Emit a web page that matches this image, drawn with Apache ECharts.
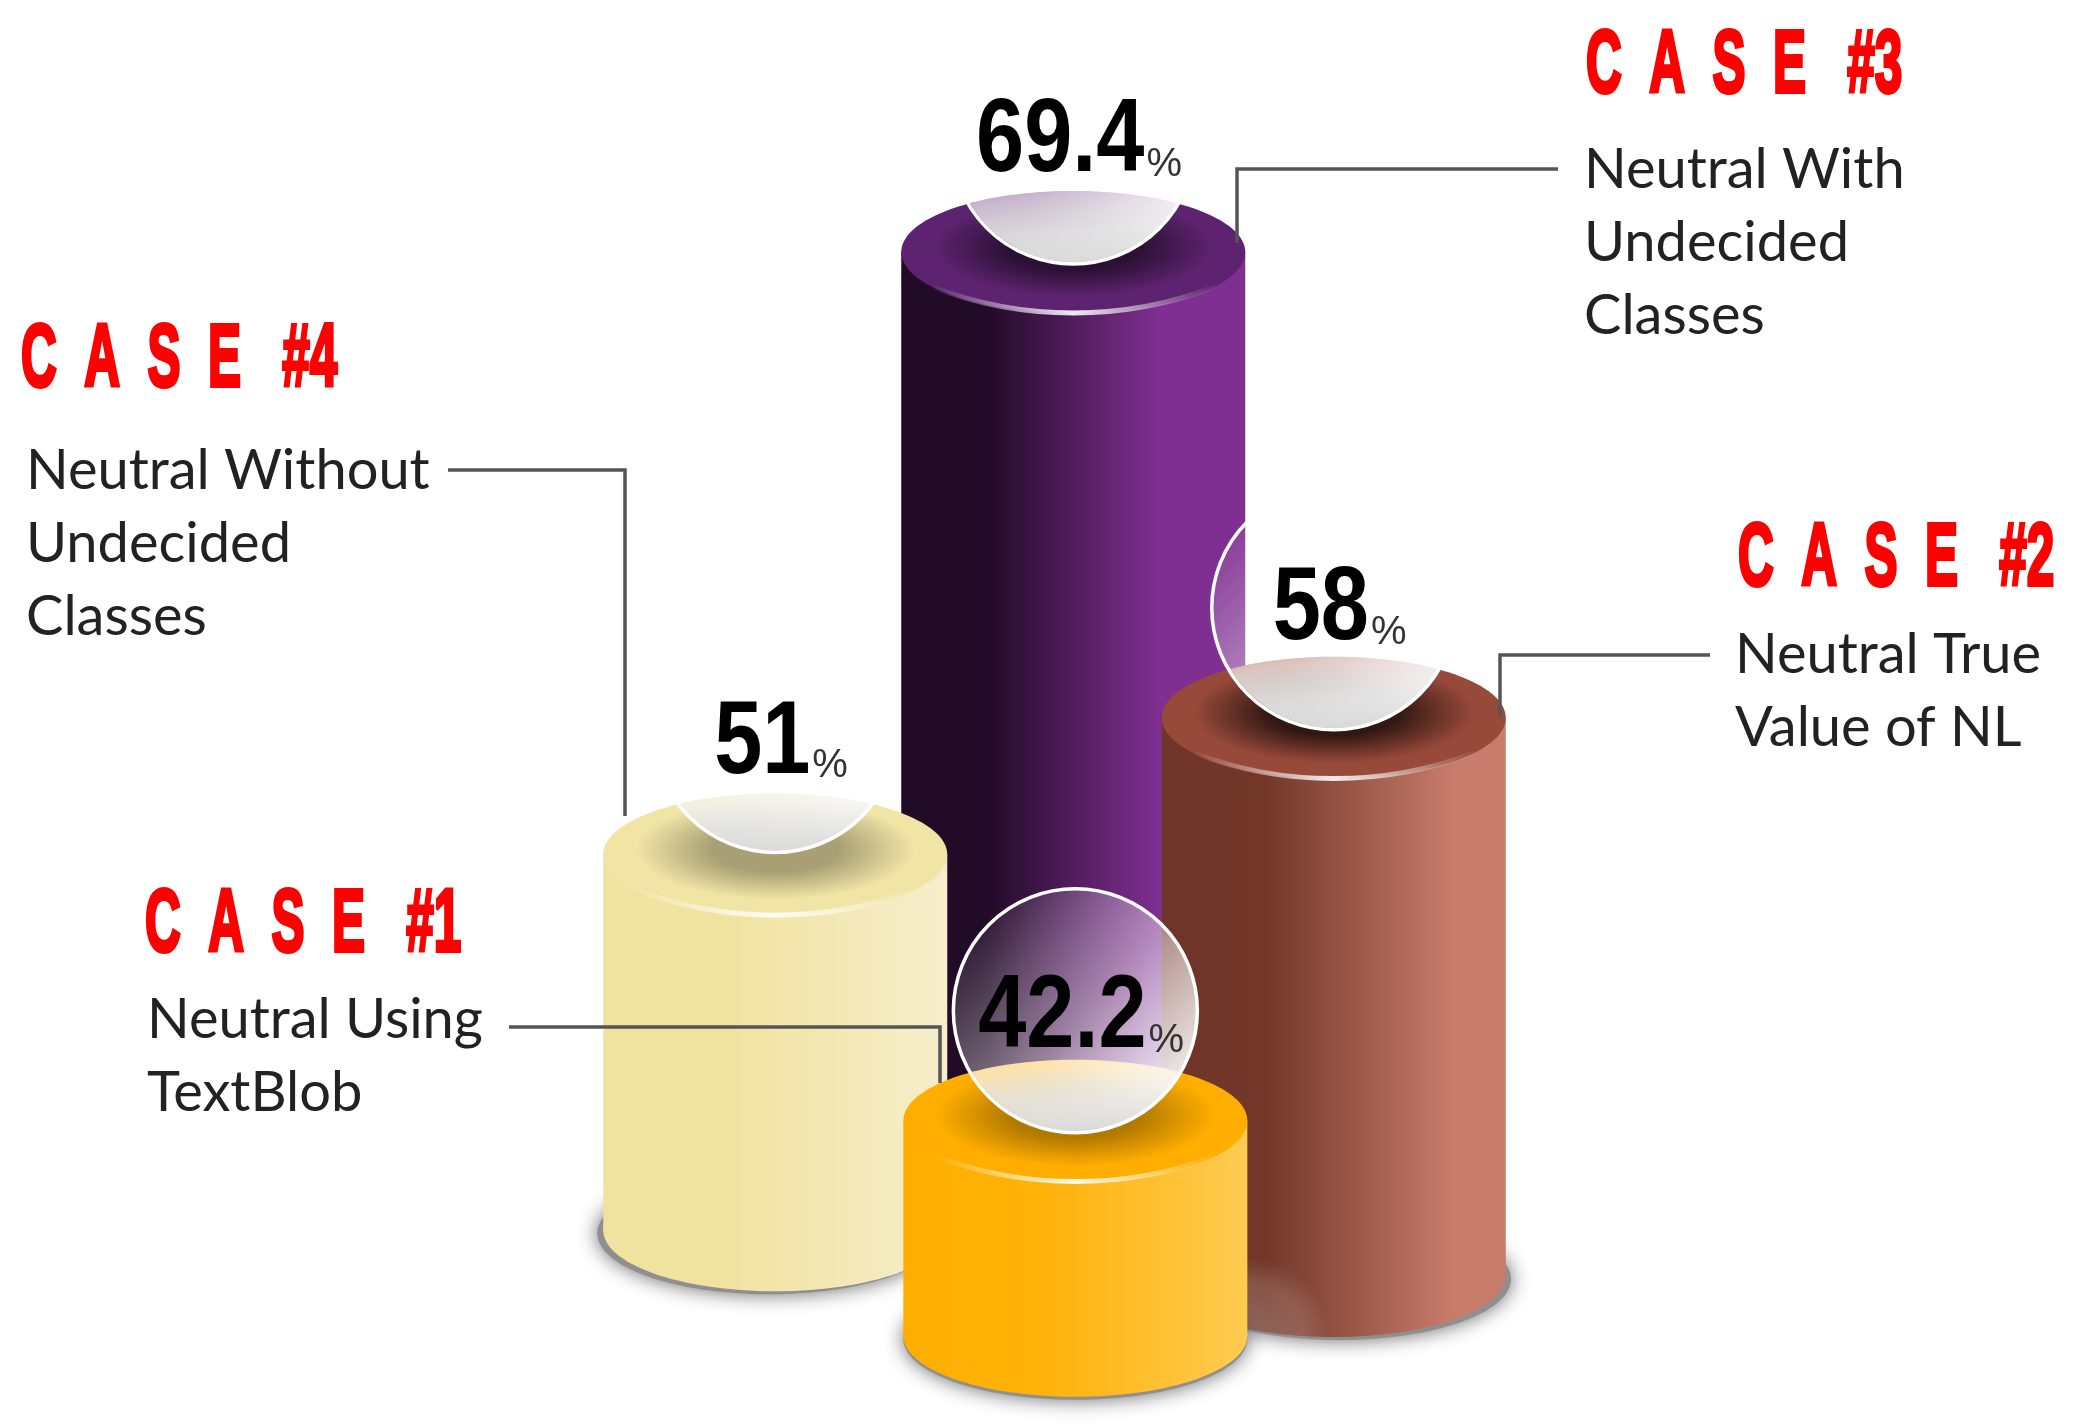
<!DOCTYPE html>
<html>
<head>
<meta charset="utf-8">
<title>Neutral cases</title>
<script src="https://cdn.jsdelivr.net/npm/echarts@6/dist/echarts.min.js"></script>
<style>
html, body { margin: 0; padding: 0; background: #fff; }
#chart { width: 2084px; height: 1424px; }
</style>
</head>
<body>
<div id="chart"></div>
<script>
// values printed on the picture, CASE #1 .. #4
const caseNames = ['C  A  S  E   #1', 'C  A  S  E   #2', 'C  A  S  E   #3', 'C  A  S  E   #4'];
const caseValues = [42.2, 58, 69.4, 51];
const caseNotes = [
  ['Neutral Using', 'TextBlob'],
  ['Neutral True', 'Value of NL'],
  ['Neutral With', 'Undecided', 'Classes'],
  ['Neutral Without', 'Undecided', 'Classes']
];
// the cylinders are not drawn to scale in the picture, so their column and
// the levels of top and foot are read off it, in axis units (0-100)
const caseColumn = [51.6, 64.0, 51.5, 37.2];
const caseTopLevel = [21.3, 49.6, 82.3, 40.0];
const caseFootLevel = [6.2, 10.4, 15.7, 13.6];

const chart = echarts.init(document.getElementById('chart'));

const bodyColors = [
  [['0', '#ffae00'], ['0.4', '#ffb208'], ['1', '#ffcb52']],
  [['0', '#6e3528'], ['0.3', '#723729'], ['0.85', '#c87c6c'], ['1', '#c87c6c']],
  [['0', '#210b26'], ['0.25', '#220b27'], ['0.75', '#7f2f92'], ['1', '#7f2f92']],
  [['0', '#f0e3a0'], ['0.35', '#f0e3a0'], ['1', '#f6eecb']]
];
const capColors = ['#ffae00', '#97493a', '#5e2370', '#f1e5a6'];
const shadeAlpha = [0.3, 0.68, 0.55, 0.3];
const lensLift = [110, 110, 110, 124];
const labelShift = [8, 3, 1, 14];

const RX = 172, RY = 61, LENS_R = 122;
const LABEL_SCALE = 0.84;
const MIDDLE_X = 1074;
const measure = document.createElement('canvas').getContext('2d');

function stops(list) {
  return list.map(s => ({ offset: +s[0], color: s[1] }));
}

function renderCylinder(params, api) {
  const i = api.value(3);
  const top = api.coord([api.value(0), api.value(1)]);
  const foot = api.coord([api.value(0), api.value(2)]);
  const cx = top[0], cy = top[1], fy = foot[1];
  const lensY = cy - lensLift[i];
  const textY = lensY + labelShift[i];
  const body = { type: 'linear', x: 0, y: 0, x2: 1, y2: 0, colorStops: stops(bodyColors[i]) };
  const capClip = { type: 'ellipse', shape: { cx: cx, cy: cy, rx: RX, ry: RY } };

  const label = String(caseValues[i]);
  measure.font = 'bold 103px "Liberation Sans"';
  const labelW = measure.measureText(label).width * LABEL_SCALE;
  const labelX = cx - 13 + labelW / 2;

  const children = [
    // ground shadow, thrown away from the middle
    {
      type: 'ellipse',
      shape: { cx: cx + (cx - MIDDLE_X) * 0.02, cy: fy + 3, rx: RX, ry: RY },
      style: { fill: '#8f8f8f', shadowBlur: 20, shadowColor: 'rgba(90,90,90,0.9)' }
    },
    { type: 'ellipse', shape: { cx: cx, cy: fy, rx: RX, ry: RY }, style: { fill: body } },
    { type: 'rect', shape: { x: cx - RX, y: cy, width: RX * 2, height: fy - cy }, style: { fill: body } }
  ];
  if (i === 1) {
    // pale reflection of the orange cylinder on the brown foot
    children.push({
      type: 'group',
      clipPath: { type: 'ellipse', shape: { cx: cx, cy: fy, rx: RX, ry: RY } },
      children: [{
        type: 'circle',
        shape: { cx: cx - 85, cy: fy + 62, r: 80 },
        style: {
          fill: {
            type: 'radial', x: 0.5, y: 0.5, r: 0.5,
            colorStops: [
              { offset: 0, color: 'rgba(255,255,255,0.24)' },
              { offset: 0.7, color: 'rgba(255,255,255,0.14)' },
              { offset: 1, color: 'rgba(255,255,255,0)' }
            ]
          }
        }
      }]
    });
  }
  children.push(
    { type: 'ellipse', shape: { cx: cx, cy: cy, rx: RX, ry: RY }, style: { fill: capColors[i] } },
    // dark halo under the lens
    {
      type: 'group',
      clipPath: capClip,
      children: [{
        type: 'circle',
        x: cx, y: cy - 5, scaleY: 0.36,
        shape: { cx: 0, cy: 0, r: 140 },
        style: {
          fill: {
            type: 'radial', x: 0.5, y: 0.5, r: 0.5,
            colorStops: [
              { offset: 0, color: 'rgba(0,0,0,' + shadeAlpha[i] + ')' },
              { offset: 0.45, color: 'rgba(0,0,0,' + shadeAlpha[i] + ')' },
              { offset: 1, color: 'rgba(0,0,0,0)' }
            ]
          }
        }
      }]
    },
    // white rim light
    {
      type: 'bezierCurve',
      shape: {
        x1: cx - RX * 0.82, y1: cy + RY * 0.57,
        x2: cx + RX * 0.82, y2: cy + RY * 0.57,
        cpx1: cx - RX * 0.3, cpy1: cy + RY * 1.14,
        cpx2: cx + RX * 0.3, cpy2: cy + RY * 1.14
      },
      style: {
        fill: null,
        lineWidth: 5,
        stroke: {
          type: 'linear', x: 0, y: 0, x2: 1, y2: 0,
          colorStops: [
            { offset: 0, color: 'rgba(255,255,255,0)' },
            { offset: 0.5, color: 'rgba(255,255,255,0.9)' },
            { offset: 1, color: 'rgba(255,255,255,0)' }
          ]
        }
      }
    },
    // glass lens
    {
      type: 'circle',
      shape: { cx: cx, cy: lensY, r: LENS_R },
      style: {
        stroke: '#fff',
        lineWidth: 3.5,
        fill: {
          type: 'linear', x: 0.12, y: 0.08, x2: 0.9, y2: 0.85,
          colorStops: [
            { offset: 0, color: 'rgba(255,255,255,0.03)' },
            { offset: 0.55, color: 'rgba(255,255,255,0.45)' },
            { offset: 1, color: 'rgba(255,255,255,0.92)' }
          ]
        }
      }
    },
    {
      type: 'group',
      clipPath: capClip,
      children: [{
        type: 'circle',
        shape: { cx: cx, cy: lensY, r: LENS_R - 2 },
        style: {
          fill: {
            type: 'linear', x: 0, y: 0, x2: 0, y2: 1,
            colorStops: [
              { offset: 0.68, color: 'rgba(255,255,255,0.3)' },
              { offset: 0.88, color: 'rgba(232,232,232,0.82)' },
              { offset: 1, color: 'rgba(218,218,218,1)' }
            ]
          }
        }
      }]
    },
    {
      type: 'text',
      x: labelX, y: textY,
      scaleX: LABEL_SCALE,
      style: {
        text: label,
        fill: '#000',
        font: 'bold 103px "Liberation Sans"',
        textAlign: 'right',
        textVerticalAlign: 'middle'
      }
    },
    {
      type: 'text',
      x: labelX + 2, y: textY + 22,
      style: {
        text: '%',
        fill: '#333',
        font: '40px "Liberation Sans"',
        textAlign: 'left',
        textVerticalAlign: 'middle'
      }
    }
  );
  return { type: 'group', children: children };
}

// back to front: the higher the foot, the further away the cylinder
const drawOrder = caseValues.map((v, i) => i).sort((a, b) => caseFootLevel[b] - caseFootLevel[a]);
const seriesData = drawOrder.map(i => [caseColumn[i], caseTopLevel[i], caseFootLevel[i], i]);

// heading and note block of each case: [headingX, headingTop, noteX, firstLineCentre]
const blockPos = [
  [145, 882, 147, 1020],
  [1738, 516, 1735, 655],
  [1586, 23, 1584, 170],
  [21, 317, 26, 471]
];
// leader lines, text to cylinder
const leaders = [
  [[509, 1027], [940, 1027], [940, 1083]],
  [[1710, 655], [1500, 655], [1500, 716]],
  [[1558, 169], [1237, 169], [1237, 243]],
  [[448, 470], [625, 470], [625, 816]]
];

const graphics = [];
caseNames.forEach((name, i) => {
  const p = blockPos[i];
  graphics.push({
    type: 'polyline',
    z: 20,
    shape: { points: leaders[i] },
    style: { stroke: '#555', lineWidth: 3.5, fill: null }
  });
  graphics.push({
    type: 'text',
    z: 20,
    x: p[0], y: p[1],
    scaleX: 0.75,
    scaleY: 1.35,
    style: {
      text: name,
      fill: '#ff0000',
      stroke: '#ff0000',
      lineWidth: 3,
      font: 'bold 66px "Liberation Sans"',
      textAlign: 'left',
      textVerticalAlign: 'top'
    }
  });
  caseNotes[i].forEach((line, k) => {
    graphics.push({
      type: 'text',
      z: 20,
      x: p[2], y: p[3] + k * 73,
      style: {
        text: line,
        fill: '#222',
        font: '56px Lato',
        textAlign: 'left',
        textVerticalAlign: 'middle'
      }
    });
  });
});

chart.setOption({
  animation: false,
  backgroundColor: '#fff',
  grid: { left: 0, right: 0, top: 0, bottom: 0 },
  xAxis: { type: 'value', min: 0, max: 100, show: false },
  yAxis: { type: 'value', min: 0, max: 100, show: false },
  series: [{
    type: 'custom',
    clip: false,
    renderItem: renderCylinder,
    encode: { x: 0, y: 1 },
    data: seriesData
  }],
  graphic: { elements: graphics }
});

window.addEventListener('resize', function () { chart.resize(); });
</script>
</body>
</html>
